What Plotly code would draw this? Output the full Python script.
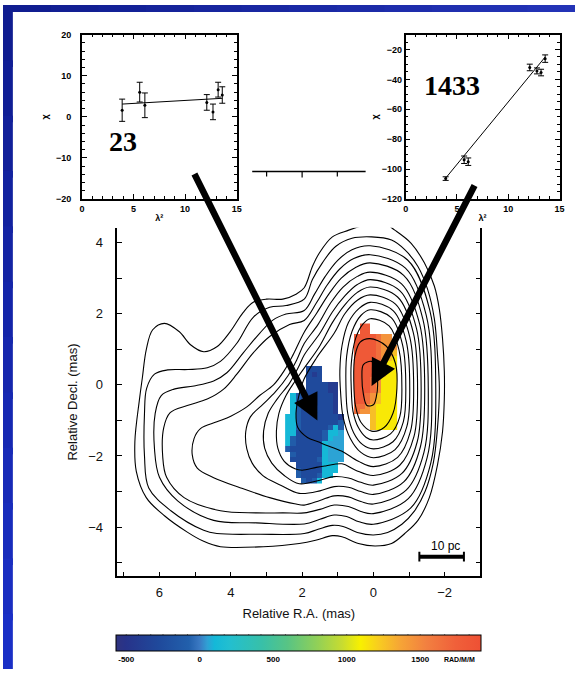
import plotly.graph_objects as go

W, H = 580, 674

# ---------------- inset data: polarisation angle vs wavelength squared ----------------
l2_23 = [3.9, 5.6, 6.1, 12.1, 12.7, 13.2, 13.6]
chi_23 = [1.6, 6.0, 2.8, 3.5, 1.2, 6.6, 5.3]
err_23 = [2.7, 2.4, 3.0, 1.9, 1.9, 1.8, 2.0]
fit_23_l2 = [3.9, 13.6]
fit_23_chi = [3.1, 4.5]

l2_1433 = [3.9, 5.7, 6.1, 12.1, 12.8, 13.2, 13.6]
chi_1433 = [-106.3, -93.7, -95.0, -32.0, -34.3, -35.4, -26.1]
err_1433 = [1.2, 2.5, 2.5, 2.2, 2.0, 2.2, 2.5]
fit_1433_l2 = [3.9, 13.6]
fit_1433_chi = [-106.0, -25.0]

# ---------------- total intensity contours (mas) ----------------
contour_1 = [(-0.2, 4.6), (0.23, 4.5), (0.69, 4.35), (1.15, 4.16), (1.52, 3.70), (1.71, 3.33), (1.94, 2.73),
             (2.17, 2.55), (2.54, 2.41), (3.00, 2.41), (3.37, 2.32), (3.65, 2.04), (4.02, 1.49), (4.39, 1.07),
             (4.76, 0.93), (5.12, 1.12), (5.45, 1.50), (5.86, 1.73), (6.19, 1.55), (6.37, 0.99), (6.48, 0.2),
             (6.56, -0.40), (6.69, -1.60), (6.65, -2.43), (6.37, -3.17), (5.86, -3.68), (5.22, -4.14),
             (4.76, -4.40), (4.29, -4.55), (3.09, -4.55), (2.08, -4.46), (1.62, -4.37), (1.15, -4.24),
             (0.88, -4.27), (0.42, -4.46), (-0.05, -4.53), (-0.51, -4.46), (-0.88, -4.18), (-1.25, -3.81),
             (-1.57, -3.17), (-1.80, -2.24), (-1.94, -1.32), (-1.99, -0.40), (-1.99, 0.38), (-1.94, 1.30),
             (-1.85, 2.13), (-1.71, 2.78), (-1.43, 3.43), (-1.06, 3.98), (-0.6, 4.35), (-0.2, 4.6)]
contour_2 = [(0.05, 4.16), (0.60, 4.12), (1.06, 3.89), (1.43, 3.43), (1.71, 2.96), (1.94, 2.41), (2.45, 2.23),
             (2.91, 2.18), (3.37, 1.90), (3.83, 1.17), (4.29, 0.66), (4.66, 0.48), (5.2, 0.43), (5.77, 0.42),
             (6.14, 0.30), (6.36, -0.1), (6.42, -0.8), (6.42, -2.0), (6.30, -2.9), (5.68, -3.54), (4.76, -4.09),
             (4.39, -4.18), (3.19, -4.2), (1.94, -4.18), (1.55, -4.06), (1.15, -3.95), (0.85, -3.98), (0.45, -4.15),
             (0.0, -4.22), (-0.4, -4.15), (-0.8, -3.92), (-1.15, -3.55), (-1.45, -3.0), (-1.68, -2.2),
             (-1.80, -1.2), (-1.85, -0.08), (-1.80, 0.84), (-1.71, 1.86), (-1.52, 2.69), (-1.25, 3.33),
             (-0.88, 3.80), (-0.51, 4.07), (0.05, 4.16)]
contour_3 = [(0.09, 3.91), (0.6, 3.8), (1.0, 3.5), (1.35, 3.05), (1.65, 2.55), (1.94, 2.09), (2.45, 1.99),
             (2.82, 1.82), (3.19, 1.45), (3.65, 0.90), (4.11, 0.34), (4.48, 0.11), (5.03, -0.03), (5.59, -0.12),
             (5.95, -0.3), (6.12, -0.8), (6.14, -1.8), (6.0, -2.6), (5.49, -3.26), (4.48, -3.81), (3.28, -3.88),
             (1.94, -3.91), (1.5, -3.78), (1.1, -3.66), (0.75, -3.7), (0.4, -3.85), (0.0, -3.92), (-1.05, -3.46),
             (-1.61, -2.20), (-1.75, -0.1), (-1.58, 2.11), (-0.96, 3.51), (0.09, 3.91)]
contour_4 = [(0.09, 3.66), (0.55, 3.55), (0.95, 3.25), (1.3, 2.8), (1.6, 2.3), (1.94, 1.81), (2.35, 1.70),
             (2.91, 1.36), (3.37, 0.90), (3.83, 0.30), (4.2, -0.12), (4.66, -0.40), (5.22, -0.58), (5.7, -0.78),
             (5.88, -1.2), (5.91, -2.0), (5.8, -2.6), (5.31, -3.17), (4.29, -3.54), (3.28, -3.6), (2.54, -3.6),
             (1.94, -3.6), (1.5, -3.5), (1.1, -3.38), (0.7, -3.42), (0.35, -3.56), (0.0, -3.62), (-0.98, -3.20),
             (-1.51, -2.04), (-1.64, -0.1), (-1.48, 1.97), (-0.90, 3.28), (0.09, 3.66)]
contour_5 = [(0.09, 3.43), (0.5, 3.3), (0.9, 3.0), (1.25, 2.55), (1.6, 2.0), (1.94, 1.48), (2.25, 0.85),
             (2.5, 0.4), (2.8, 0.0), (3.19, -0.30), (3.55, -0.62), (4.0, -0.88), (4.39, -1.04), (4.85, -1.23),
             (5.03, -1.51), (5.08, -1.97), (4.94, -2.34), (4.48, -2.61), (3.74, -2.89), (2.91, -3.17),
             (2.17, -3.35), (1.94, -3.38), (1.5, -3.25), (1.1, -3.12), (0.7, -3.15), (0.35, -3.28), (0.0, -3.35),
             (-0.92, -2.96), (-1.42, -1.89), (-1.54, -0.1), (-1.39, 1.84), (-0.85, 3.08), (0.09, 3.43)]
contour_6 = [(0.09, 3.17), (0.45, 3.05), (0.85, 2.75), (1.2, 2.3), (1.55, 1.7), (1.94, 1.16), (2.15, 0.7),
             (2.4, 0.25), (2.75, -0.2), (3.1, -0.55), (3.45, -0.9), (3.58, -1.32), (3.55, -1.8), (3.4, -2.2),
             (3.1, -2.55), (2.6, -2.82), (2.08, -3.05), (1.5, -2.98), (1.1, -2.86), (0.7, -2.88), (0.35, -3.0),
             (0.0, -3.08), (-0.86, -2.72), (-1.32, -1.74), (-1.44, -0.1), (-1.30, 1.70), (-0.79, 2.84), (0.09, 3.17)]
contour_7 = [(0.09, 2.96), (0.45, 2.82), (0.8, 2.5), (1.15, 2.05), (1.5, 1.45), (1.94, 0.84), (2.1, 0.5),
             (2.35, 0.05), (2.7, -0.4), (2.95, -0.8), (3.08, -1.3), (3.05, -1.78), (2.85, -2.2), (2.5, -2.55),
             (2.08, -2.78), (1.5, -2.68), (1.1, -2.58), (0.7, -2.62), (0.35, -2.74), (0.0, -2.82), (-0.80, -2.49),
             (-1.23, -1.60), (-1.34, -0.1), (-1.21, 1.58), (-0.74, 2.65), (0.09, 2.96)]
contour_8 = [(0.09, 2.75), (0.45, 2.6), (0.8, 2.25), (1.15, 1.75), (1.5, 1.1), (1.94, 0.47), (2.2, 0.1),
             (2.45, -0.3), (2.65, -0.8), (2.72, -1.3), (2.68, -1.78), (2.5, -2.15), (2.2, -2.36), (2.0, -2.4),
             (1.6, -2.32), (1.34, -2.28), (0.88, -2.22), (0.5, -2.4), (0.0, -2.55), (-0.74, -2.26), (-1.14, -1.45),
             (-1.24, -0.1), (-1.12, 1.47), (-0.68, 2.47), (0.09, 2.75)]
contour_9 = [(0.09, 2.53), (0.45, 2.38), (0.8, 2.0), (1.1, 1.45), (1.6, 0.75), (1.95, 0.15), (2.1, -0.35),
             (2.17, -0.8), (2.12, -1.2), (1.85, -1.48), (1.55, -1.6), (1.34, -1.69), (0.88, -1.87), (0.42, -2.15),
             (0.0, -2.30), (-0.68, -2.04), (-1.04, -1.31), (-1.13, -0.1), (-1.02, 1.35), (-0.62, 2.27), (0.09, 2.53)]
contour_10 = [(0.09, 2.32), (0.4, 2.15), (0.7, 1.75), (0.88, 1.1), (0.94, 0.4), (0.92, -0.2), (0.85, -0.9),
              (0.65, -1.5), (0.35, -1.9), (0.0, -2.05), (-0.61, -1.82), (-0.94, -1.17), (-1.02, -0.1),
              (-0.92, 1.23), (-0.56, 2.08), (0.09, 2.32)]
contour_11 = [(0.09, 2.11), (0.35, 1.95), (0.6, 1.5), (0.75, 0.8), (0.77, 0.0), (0.72, -0.8), (0.55, -1.35),
              (0.3, -1.68), (0.0, -1.80), (-0.55, -1.60), (-0.84, -1.04), (-0.91, -0.1), (-0.82, 1.12),
              (-0.50, 1.89), (0.09, 2.11)]
contour_12 = [(0.09, 1.86), (0.3, 1.7), (0.5, 1.3), (0.62, 0.6), (0.62, -0.1), (0.57, -0.75), (0.42, -1.2),
              (0.2, -1.48), (0.0, -1.55), (-0.48, -1.38), (-0.74, -0.90), (-0.80, -0.1), (-0.72, 0.98),
              (-0.44, 1.66), (0.09, 1.86)]
contour_13 = [(0.1, 1.3), (0.37, 1.2), (0.52, 0.8), (0.55, 0.1), (0.5, -0.6), (0.35, -1.05), (0.05, -1.3),
              (-0.3, -1.2), (-0.55, -0.8), (-0.66, -0.1), (-0.62, 0.6), (-0.35, 1.1), (0.1, 1.3)]
contour_14 = [(0.05, 0.66), (-0.08, 0.45), (-0.12, 0.0), (-0.08, -0.35), (0.0, -0.56), (0.18, -0.58),
              (0.28, -0.26), (0.32, 0.2), (0.28, 0.57), (0.05, 0.66)]
contours = [contour_1, contour_2, contour_3, contour_4, contour_5, contour_6, contour_7,
            contour_8, contour_9, contour_10, contour_11, contour_12, contour_13, contour_14]

# ---------------- rotation measure map (rad/m^2) ----------------
rm_x = [2.40, 2.25, 2.10, 1.95, 1.80, 1.65, 1.50, 1.35, 1.20, 1.05, 0.90,
        0.75, 0.60, 0.45, 0.30, 0.15, 0.00, -0.15, -0.30, -0.45, -0.60]
rm_y = [1.65, 1.50, 1.35, 1.20, 1.05, 0.90, 0.75, 0.60, 0.45, 0.30, 0.15, 0.00, -0.15, -0.30, -0.45,
        -0.60, -0.75, -0.90, -1.05, -1.20, -1.35, -1.50, -1.65, -1.80, -1.95, -2.10, -2.25, -2.40, -2.55, -2.70]
rm_levels = {'N': -420, 'D': -270, 'M': -110, 'C': 110, 'L': 60,
             'Y': 1120, 'o': 1270, 'O': 1450, 'r': 1650, 'R': 1820}
rm_rows = [
    "..............RR.....",
    "..............RR.....",
    ".............RRRRrOO.",
    ".............RRRRrOO.",
    ".............RRRRrOOO",
    ".............RRRRrOOo",
    ".............RRRRrOoY",
    ".............RRRRroYY",
    "....DDD......RRRRroYY",
    "....DND......RRRRroYY",
    "....DDD......RRRrOYYY",
    "....DDDDNN...RRRrOYYY",
    "....DDDDNN...RRRrOYYY",
    ".CMDDDDDDN...RRrOoYYY",
    ".CMDDDDDDN...RRrOoYYY",
    ".CMDDDDDDN...rrOoYYYY",
    ".CMDDDDDDN...rOOoYYYY",
    "CCMDDDDDDDN.....oYYYY",
    "CCMDDDDDDDM.....oYYYY",
    "CCMDDDDDMCM.....oYYYY",
    "CCDDDDDMCCL..........",
    "CMDDDDDMCLL..........",
    "CMDDDDDCLLL..........",
    "MDDDDDDCLLL..........",
    ".MDDDDDCLLL..........",
    ".DDDDDMCLLL..........",
    "..DDDDDCCC...........",
    "..MDDDDCCC...........",
    "..MDDDMCC............",
    "...MDMC..............",
]
rm_z = [[rm_levels.get(ch) for ch in row] for row in rm_rows]
rm_min, rm_max = -567, 1916
rm_ticks = [-500, 0, 500, 1000, 1500]

rm_scale = [
    [0.000, '#30337e'], [0.027, '#27338a'], [0.120, '#1f4a9c'], [0.200, '#2260ac'],
    [0.228, '#3a78c2'], [0.250, '#30a0d4'], [0.270, '#14b8d8'], [0.310, '#22bfd0'],
    [0.400, '#38c0a8'], [0.470, '#58c484'], [0.550, '#90d058'], [0.620, '#c8dc30'],
    [0.670, '#f8f000'], [0.720, '#f8cc20'], [0.780, '#f6a436'], [0.850, '#f28040'],
    [0.930, '#f0603a'], [1.000, '#ee5034'],
]

# scale bar (10 pc) and arrow geometry in map coordinates
scalebar_x = [-1.29, -2.54]
scalebar_y = -4.83
arrow_23 = dict(tail=(5.04, 5.97), head=(1.57, -1.0))
arrow_1433 = dict(tail=(-2.86, 5.65), head=(0.05, -0.03))

# colour bar placement (pixels)
cb_left, cb_right, cb_top, cb_h = 115, 485, 639, 16

fig = go.Figure()

# RM image
fig.add_trace(go.Heatmap(
    x=rm_x, y=rm_y, z=rm_z, zmin=rm_min, zmax=rm_max, colorscale=rm_scale,
    zsmooth=False, hoverinfo='skip', xaxis='x', yaxis='y',
    colorbar=dict(
        orientation='h', x=(cb_left + cb_right) / 2 / W, xanchor='center', xref='paper',
        y=1 - cb_top / H, yanchor='top', yref='paper',
        len=(cb_right - cb_left) / W, lenmode='fraction', thickness=cb_h, xpad=0, ypad=0,
        outlinecolor='black', outlinewidth=1,
        tickmode='array', tickvals=rm_ticks, ticktext=[str(t) for t in rm_ticks],
        ticks='',
        tickfont=dict(family='Liberation Sans', size=8, color='black', weight='bold'),
    ),
))

# contours
for c in contours:
    fig.add_trace(go.Scatter(
        x=[p[0] for p in c], y=[p[1] for p in c], mode='lines',
        line=dict(color='black', width=1.1, shape='spline', smoothing=1.0),
        hoverinfo='skip', xaxis='x', yaxis='y'))

# insets
for l2, chi, err, fx, fy, ax in [
    (l2_23, chi_23, err_23, fit_23_l2, fit_23_chi, ('x2', 'y2')),
    (l2_1433, chi_1433, err_1433, fit_1433_l2, fit_1433_chi, ('x3', 'y3')),
]:
    fig.add_trace(go.Scatter(x=fx, y=fy, mode='lines', line=dict(color='black', width=1),
                             hoverinfo='skip', xaxis=ax[0], yaxis=ax[1]))
    fig.add_trace(go.Scatter(x=l2, y=chi, mode='markers',
                             marker=dict(color='black', size=3),
                             error_y=dict(type='data', array=err, thickness=1, width=3, color='black'),
                             hoverinfo='skip', xaxis=ax[0], yaxis=ax[1]))

# scale bar
fig.add_trace(go.Scatter(x=scalebar_x, y=[scalebar_y, scalebar_y], mode='lines+markers',
                         line=dict(color='black', width=4),
                         marker=dict(symbol='line-ns', size=7, line=dict(width=2, color='black')),
                         hoverinfo='skip', xaxis='x', yaxis='y'))

tick_font_main = dict(family='Liberation Sans', size=13, color='#111111')
title_font_main = dict(family='Liberation Sans', size=13, color='#111111')
inset_font = dict(family='Liberation Sans', size=9, color='black', weight='bold')

frame = dict(showline=True, linecolor='black', linewidth=1.5, showgrid=False, zeroline=False,
             ticks='inside', tickcolor='black')

fig.update_layout(
    width=W, height=H, margin=dict(l=0, r=0, t=0, b=0),
    paper_bgcolor='white', plot_bgcolor='white', showlegend=False,
    xaxis=dict(**frame, domain=[116 / W, 484 / W], range=[7.18, -3.0], anchor='y',
               ticklen=5, tickwidth=1.2, tick0=0, dtick=2, ticklabelstandoff=3,
               minor=dict(dtick=1, ticks='inside', ticklen=5, tickwidth=1.2, tickcolor='black'),
               tickfont=tick_font_main,
               title=dict(text='Relative R.A. (mas)', font=title_font_main, standoff=10)),
    yaxis=dict(**frame, domain=[1 - 580 / H, 1 - 226 / H], range=[-5.385, 4.42], anchor='x',
               mirror='ticks', ticklen=5, tickwidth=1.2, tick0=0, dtick=2, ticklabelstandoff=10,
               minor=dict(dtick=1, ticks='inside', ticklen=5, tickwidth=1.2, tickcolor='black'),
               tickfont=tick_font_main,
               title=dict(text='Relative Decl. (mas)', font=title_font_main, standoff=8)),
    xaxis2=dict(**frame, domain=[80 / W, 237 / W], range=[0, 15], anchor='y2', mirror='ticks',
                ticklen=5, dtick=5, tick0=0,
                minor=dict(dtick=1, ticks='inside', ticklen=3, tickcolor='black'),
                tickfont=inset_font, title=dict(text='λ²', font=inset_font, standoff=2)),
    yaxis2=dict(**frame, domain=[1 - 197 / H, 1 - 30 / H], range=[-20, 20], anchor='x2', mirror='ticks',
                ticklen=5, dtick=10, tick0=0, ticklabelstandoff=7,
                minor=dict(dtick=2, ticks='inside', ticklen=3, tickcolor='black'),
                tickfont=inset_font, title=dict(text='χ', font=inset_font, standoff=6)),
    xaxis3=dict(**frame, domain=[408.3 / W, 564.3 / W], range=[0, 15], anchor='y3', mirror='ticks',
                ticklen=5, dtick=5, tick0=0,
                minor=dict(dtick=1, ticks='inside', ticklen=3, tickcolor='black'),
                tickfont=inset_font, title=dict(text='λ²', font=inset_font, standoff=2)),
    yaxis3=dict(**frame, domain=[1 - 197 / H, 1 - 30 / H], range=[-120, -10], anchor='x3', mirror='ticks',
                ticklen=5, dtick=20, tick0=0,
                minor=dict(dtick=5, ticks='inside', ticklen=3, tickcolor='black'),
                tickfont=inset_font, title=dict(text='χ', font=inset_font, standoff=2)),
)


def mix(c0, c1, t):
    a = [int(c0[i:i + 2], 16) for i in (1, 3, 5)]
    b = [int(c1[i:i + 2], 16) for i in (1, 3, 5)]
    return '#' + ''.join(f'{round(a[k] + (b[k] - a[k]) * t):02x}' for k in range(3))


# slide frame: blue strips along the left and top edges, shading lighter away from the corner
n_seg = 12
ov = 0.01  # overlap between neighbouring bands so no seams show
for k in range(n_seg):
    t0, t1 = k / n_seg, (k + 1) / n_seg
    fig.add_shape(type='rect', xref='paper', yref='paper', x0=0, x1=10 / W,
                  y0=max(0, 1 - t1 - ov), y1=1 - t0,
                  fillcolor=mix('#0f1c8e', '#1b30c8', (t0 + t1) / 2), line=dict(width=0), layer='below')
    fig.add_shape(type='rect', xref='paper', yref='paper', x0=t0, x1=min(1, t1 + ov),
                  y0=1 - 7 / H, y1=1,
                  fillcolor=mix('#0f1c8e', '#2434b8', (t0 + t1) / 2), line=dict(width=0), layer='below')

# colour bar tick marks along both long edges
cb_step = 500 / 6
v = rm_ticks[0]
while v <= rm_max:
    px = cb_left + (v - rm_min) / (rm_max - rm_min) * (cb_right - cb_left)
    for y0, y1 in [(cb_top, cb_top + 3), (cb_top + cb_h - 3, cb_top + cb_h)]:
        fig.add_shape(type='line', xref='paper', yref='paper', x0=px / W, x1=px / W,
                      y0=1 - y0 / H, y1=1 - y1 / H, line=dict(color='black', width=1))
    v += cb_step

# detached axis fragment between the two insets
frag_y = 1 - 169 / H
fig.add_shape(type='line', xref='paper', yref='paper', x0=252.7 / W, x1=367.7 / W, y0=frag_y, y1=frag_y,
              line=dict(color='black', width=1.5))
for tx, tl in [(267.3, 5), (303.3, 6), (339.0, 5)]:
    fig.add_shape(type='line', xref='paper', yref='paper', x0=tx / W, x1=tx / W,
                  y0=frag_y, y1=frag_y - tl / H, line=dict(color='black', width=1.2))

# labels
fig.add_annotation(x=4.0, y=-6.1, xref='x2', yref='y2', text='23', showarrow=False,
                   font=dict(family='Liberation Serif', size=28, color='black', weight='bold'))
fig.add_annotation(x=4.56, y=-44.2, xref='x3', yref='y3', text='1433', showarrow=False,
                   font=dict(family='Liberation Serif', size=28, color='black', weight='bold'))
fig.add_annotation(x=-2.02, y=-4.52, xref='x', yref='y', text='10 pc', showarrow=False,
                   font=dict(family='Liberation Sans', size=12, color='black'))
fig.add_annotation(x=463 / W, y=1 - 664 / H, xref='paper', yref='paper', text='RAD/M/M', showarrow=False,
                   xanchor='center', yanchor='middle',
                   font=dict(family='Liberation Sans', size=7, color='black', weight='bold'))

# arrows pointing from each inset to its region of the map
for a in (arrow_23, arrow_1433):
    fig.add_annotation(x=a['head'][0], y=a['head'][1], xref='x', yref='y',
                       ax=a['tail'][0], ay=a['tail'][1], axref='x', ayref='y',
                       text='', showarrow=True, arrowhead=2, arrowsize=0.8, arrowwidth=6.5,
                       arrowcolor='black')

fig.write_html('out.html')
